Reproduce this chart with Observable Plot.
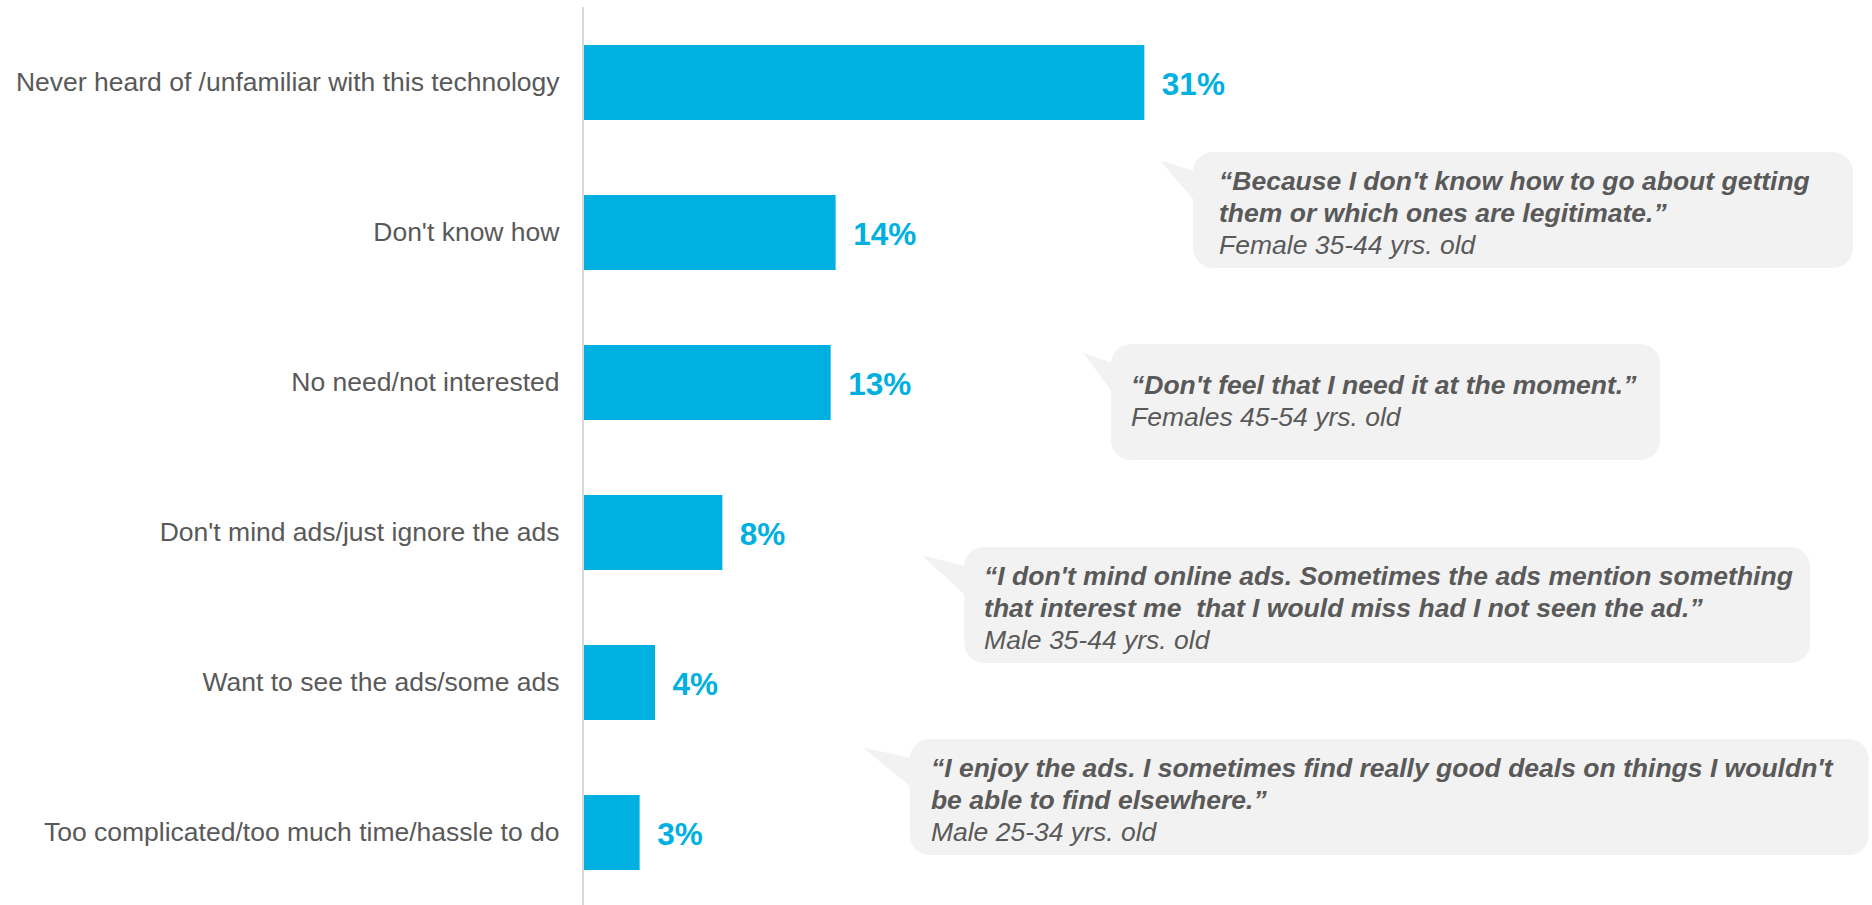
<!DOCTYPE html>
<html><head><meta charset="utf-8">
<script src="https://cdn.jsdelivr.net/npm/d3@7"></script>
<script src="https://cdn.jsdelivr.net/npm/@observablehq/plot@0.6"></script>
<style>
html,body{margin:0;padding:0;background:#fff;}
#chart{width:1872px;height:905px;}
</style></head><body><div id="chart"></div>
<script>
// ---- data ----
const categories = [
  "Never heard of /unfamiliar with this technology",
  "Don't know how",
  "No need/not interested",
  "Don't mind ads/just ignore the ads",
  "Want to see the ads/some ads",
  "Too complicated/too much time/hassle to do"
];
const values = [30.62, 13.75, 13.48, 7.56, 3.88, 3.04];

const quoteLines = [
  ["\u201CBecause I don't know how to go about getting", "them or which ones are legitimate.\u201D"],
  ["\u201CDon't feel that I need it at the moment.\u201D"],
  ["\u201CI don't mind online ads. Sometimes the ads mention something", "that interest me  that I would miss had I not seen the ad.\u201D"],
  ["\u201CI enjoy the ads. I sometimes find really good deals on things I wouldn't", "be able to find elsewhere.\u201D"]
];
const quoteAuthors = ["Female 35-44 yrs. old", "Females 45-54 yrs. old", "Male 35-44 yrs. old", "Male 25-34 yrs. old"];
const quoteAnchors = [categories[1], categories[2], categories[3], categories[5]];

// ---- layout of callouts (x in % units of the x scale, y in px from anchor band centre) ----
const bubbleLayout = [
  {x1: 33.28, x2: 69.34, dyTop: -80.5, tail: -33, pad: 26},
  {x1: 28.80, x2: 58.80, dyTop: -38.5, tail: -28, pad: 20},
  {x1: 20.77, x2: 67.00, dyTop: 14.5, tail: -42, pad: 20},
  {x1: 17.81, x2: 70.20, dyTop: -93.5, tail: -47, pad: 21}
];

const data = categories.map((c, i) => ({category: c, value: values[i]}));
const fmt = d => d3.format(".0f")(d.value) + "%";
const FONT = "'Liberation Sans', Arial, sans-serif";

const plot = Plot.plot({
  width: 1872, height: 905,
  marginLeft: 584, marginRight: 7, marginTop: 45, marginBottom: 35,
  style: {fontFamily: FONT, fontSize: "26.5px", color: "#595959", background: "#fff"},
  x: {domain: [0, 70], axis: null},
  y: {domain: categories, paddingInner: 0.5, paddingOuter: 0, tickSize: 0, tickPadding: 25, label: null},
  marks: [
    Plot.barX(data, {x: "value", y: "category", fill: "#00b0e0"}),
    Plot.ruleX([0], {stroke: "#d9d9d9", strokeWidth: 2, dx: -1.5, insetTop: -38, insetBottom: -35}),
    Plot.text(data, {x: "value", y: "category", text: fmt, dx: 17, dy: 1.5, textAnchor: "start",
      fontSize: 31.5, fontWeight: "bold", fill: "#00b0e0"})
  ]
});
document.getElementById("chart").appendChild(plot);

// ---- callouts, positioned through the plot's own scales ----
const xs = plot.scale("x"), ys = plot.scale("y");
const svg = d3.select(plot);
const H = 116, LH = 32;
const g = svg.append("g")
  .attr("font-family", FONT).attr("font-size", 26.5).attr("fill", "#595959")
  .attr("text-anchor", "start");
bubbleLayout.forEach((b, i) => {
  const cy = ys.apply(quoteAnchors[i]) + ys.bandwidth / 2;
  const top = cy + b.dyTop;
  const left = xs.apply(b.x1), right = xs.apply(b.x2);
  g.append("path")
    .attr("d", `M${left + 1},${top + 19}L${left + b.tail},${top + 8.5}L${left + 1},${top + 48}Z`)
    .attr("fill", "#f2f2f2");
  g.append("rect").attr("x", left).attr("y", top).attr("width", right - left).attr("height", H)
    .attr("rx", 20).attr("fill", "#f2f2f2");
  const lines = quoteLines[i].map(t => ({t, bold: true})).concat([{t: quoteAuthors[i], bold: false}]);
  const n = lines.length;
  const mid = top + H / 2 + 12;
  lines.forEach((l, j) => {
    g.append("text")
      .attr("x", left + b.pad)
      .attr("y", mid + (j - (n - 1) / 2) * LH - (n === 2 ? 4 : 0))
      .attr("text-anchor", "start")
      .attr("font-style", "italic")
      .attr("font-weight", l.bold ? "bold" : "normal")
      .style("white-space", "pre")
      .text(l.t);
  });
});
</script>
</body></html>
